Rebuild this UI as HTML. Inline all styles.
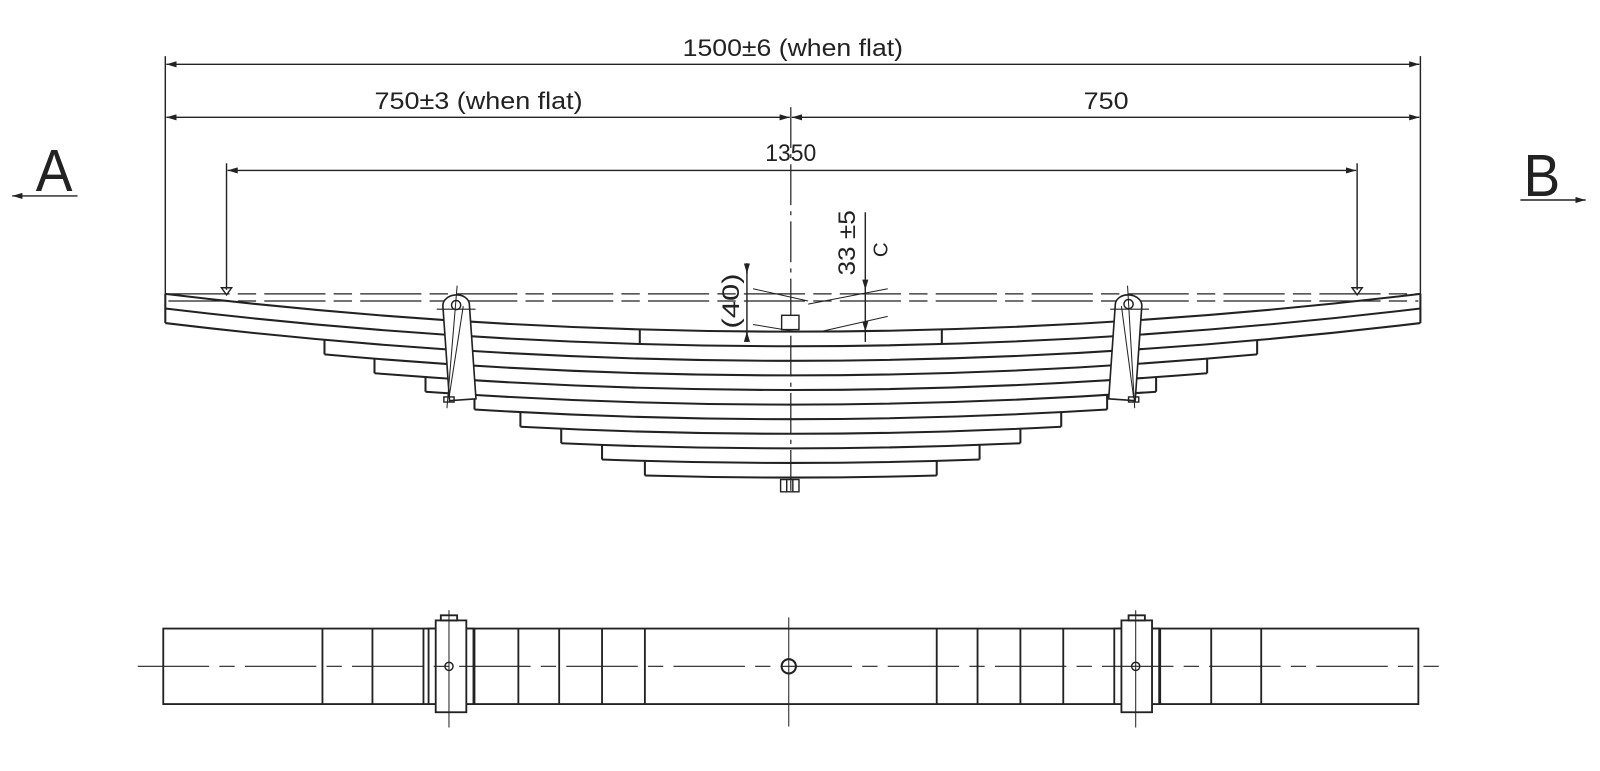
<!DOCTYPE html>
<html><head><meta charset="utf-8"><style>
html,body{margin:0;padding:0;background:#fff;}
svg{display:block;}
text{font-family:"Liberation Sans",sans-serif;fill:#222;}
</style></head><body>
<svg width="1600" height="771" viewBox="0 0 1600 771" xmlns="http://www.w3.org/2000/svg">
<defs>
<marker id="ar" viewBox="0 0 10 6" refX="10" refY="3" markerWidth="10" markerHeight="6" orient="auto-start-reverse" markerUnits="userSpaceOnUse"><path d="M0,0 L10,3 L0,6 z" fill="#222"/></marker>
</defs>
<g transform="scale(1.0204)">
<g stroke="#222" fill="none" stroke-width="1.4">
<line x1="162" y1="55" x2="162" y2="290"/>
<line x1="1392" y1="55" x2="1392" y2="290"/>
<line x1="163" y1="63" x2="1391" y2="63" marker-start="url(#ar)" marker-end="url(#ar)"/>
<line x1="163" y1="115" x2="774" y2="115" marker-start="url(#ar)" marker-end="url(#ar)"/>
<line x1="776" y1="115" x2="1391" y2="115" marker-start="url(#ar)" marker-end="url(#ar)"/>
<line x1="222" y1="160" x2="222" y2="284"/>
<line x1="1330" y1="160" x2="1330" y2="284"/>
<line x1="223" y1="167" x2="1329" y2="167" marker-start="url(#ar)" marker-end="url(#ar)"/>
<path d="M217,282 h10 l-5,7 z M1325,282 h10 l-5,7 z"/>
<line x1="12" y1="192" x2="76" y2="192" marker-start="url(#ar)"/>
<line x1="1490" y1="196" x2="1554" y2="196" marker-end="url(#ar)"/>
<g stroke-dasharray="60,8,18,8" stroke-width="1.2">
<line x1="165" y1="288" x2="1390" y2="288"/>
<line x1="165" y1="295" x2="1390" y2="295"/>
</g>
<line x1="775" y1="105" x2="775" y2="482" stroke-dasharray="40,6,4,6" stroke-width="1.2"/>
<g stroke-width="2">
<path d="M162,288 Q775,362 1392,288"/>
<path d="M162,302.3 Q775,376.3 1392,302.3"/>
<path d="M162,316.6 Q775,390.6 1392,316.6"/>
<path d="M318,347.3 Q775,388.5 1232,347.3"/>
<path d="M367,365.8 Q775,398.6 1183,365.8"/>
<path d="M417,383.9 Q775,409.1 1133,383.9"/>
<path d="M465,401.3 Q775,420.3 1085,401.3"/>
<path d="M510,418.2 Q775,432 1040,418.2"/>
<path d="M550,434.4 Q775,444.4 1000,434.4"/>
<path d="M590,450.3 Q775,457.1 960,450.3"/>
<path d="M632,466 Q775,470 918,466"/>
<path d="M162,288 V316.6 M1392,288 V316.6"/>
<path d="M318,333 V347.3 M1232,333 V347.3"/>
<path d="M367,351.5 V365.8 M1183,351.5 V365.8"/>
<path d="M417,369.6 V383.9 M1133,369.6 V383.9"/>
<path d="M465,387 V401.3 M1085,387 V401.3"/>
<path d="M510,403.9 V418.2 M1040,403.9 V418.2"/>
<path d="M550,420.1 V434.4 M1000,420.1 V434.4"/>
<path d="M590,436 V450.3 M960,436 V450.3"/>
<path d="M632,451.7 V466 M918,451.7 V466"/>
<path d="M627,322 V337 M923,322 V337"/>
</g>
<g fill="#fff" stroke-width="1.6">
<path transform="rotate(-4 447 299)" d="M434,299 a13,10 0 0 1 26,0 V392 H434 z"/>
<path transform="rotate(4 1106 299)" d="M1093,299 a13,10 0 0 1 26,0 V392 H1093 z"/>
</g>
<line x1="440" y1="390" x2="454" y2="300" stroke-width="1"/>
<line x1="1111" y1="390" x2="1099" y2="300" stroke-width="1"/>
<circle cx="447" cy="299" r="4.5"/>
<circle cx="1106" cy="298" r="4.5"/>
<line x1="428" y1="303" x2="466" y2="303" stroke-width="1"/>
<line x1="1088" y1="303" x2="1126" y2="303" stroke-width="1"/>
<line x1="448" y1="280" x2="438" y2="400" stroke-width="1"/>
<line x1="1105" y1="280" x2="1112" y2="400" stroke-width="1"/>
<path d="M435,389 h10 v5 h-10 z M1106,389 h10 v5 h-10 z"/>
<rect x="766" y="309" width="17" height="14" fill="#fff"/>
<path d="M765,470 h18 v12 h-18 z M771,470 v12 M777,470 v12"/>
<line x1="732" y1="258" x2="732" y2="335"/>
<path d="M732,258 v10" marker-end="url(#ar)"/>
<path d="M732,335 v-10" marker-end="url(#ar)"/>
<line x1="848" y1="208" x2="848" y2="335"/>
<path d="M848,275 v9" marker-end="url(#ar)"/>
<path d="M848,318 v7" marker-end="url(#ar)"/>
<path d="M738,283 L792,295 M792,298 L870,283 M738,318 L780,325 M804,325 L870,310" stroke-width="1"/>
<g stroke-width="1.8">
<rect x="160" y="616" width="1230" height="74"/>
<path d="M316,616 V690 M365,616 V690 M415,616 V690 M465,616 V690 M508,616 V690 M548,616 V690 M590,616 V690 M632,616 V690 M918,616 V690 M958,616 V690 M1000,616 V690 M1042,616 V690 M1137,616 V690 M1187,616 V690 M1236,616 V690"/>
<rect x="420" y="616" width="44" height="74" fill="#fff"/>
<rect x="427" y="608" width="30" height="90" fill="#fff"/>
<rect x="1092" y="616" width="44" height="74" fill="#fff"/>
<rect x="1099" y="608" width="30" height="90" fill="#fff"/>
<path d="M432,603 h16 v5 h-16 z M1106,603 h16 v5 h-16 z"/>
</g>
<line x1="135" y1="653" x2="1410" y2="653" stroke-dasharray="70,10,15,10" stroke-width="1.2"/>
<path d="M440,598 V713 M773,605 V712 M1113,598 V713" stroke-width="1"/>
<circle cx="440" cy="653" r="4"/>
<circle cx="1113" cy="653" r="4"/>
<circle cx="773" cy="653" r="7" stroke-width="2"/>
</g>
<text x="669" y="55" font-size="24" textLength="216" lengthAdjust="spacingAndGlyphs">1500±6 (when flat)</text>
<text x="367" y="107" font-size="24" textLength="204" lengthAdjust="spacingAndGlyphs">750±3 (when flat)</text>
<text x="1062" y="107" font-size="24" textLength="44" lengthAdjust="spacingAndGlyphs">750</text>
<text x="750" y="158" font-size="24" textLength="50" lengthAdjust="spacingAndGlyphs">1350</text>
<text x="35" y="187" font-size="58" textLength="36" lengthAdjust="spacingAndGlyphs">A</text>
<text x="1493" y="192" font-size="58" textLength="36" lengthAdjust="spacingAndGlyphs">B</text>
<text transform="translate(724,322) rotate(-90)" font-size="24" textLength="54" lengthAdjust="spacingAndGlyphs">(40)</text>
<text transform="translate(838,270) rotate(-90)" font-size="24" textLength="64" lengthAdjust="spacingAndGlyphs">33 ±5</text>
<text transform="translate(870,252) rotate(-90)" font-size="20">C</text>
</g>
</svg>
</body></html>
